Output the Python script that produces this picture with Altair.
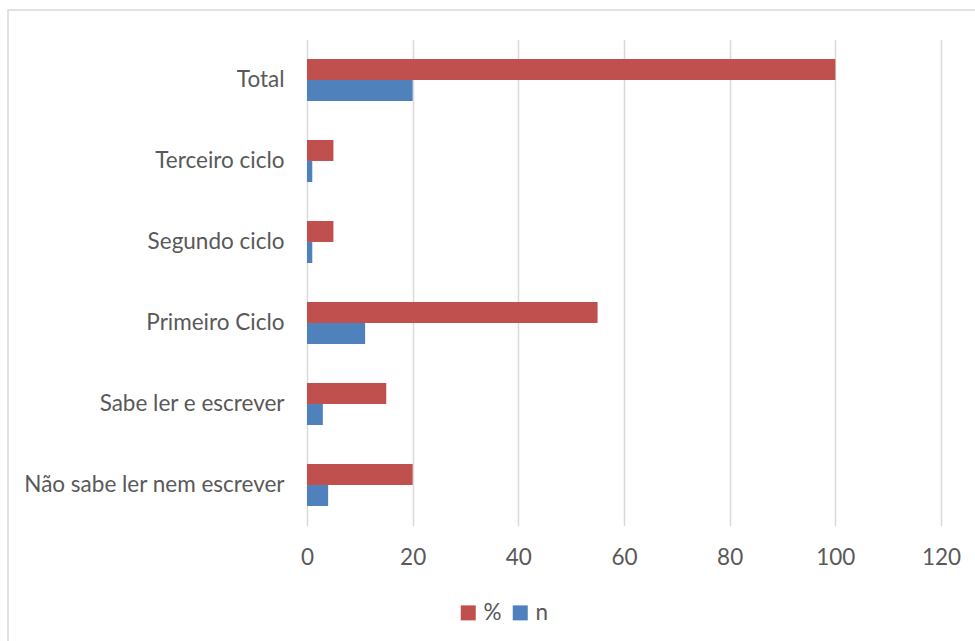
import altair as alt
import pandas as pd

# Education level categories, listed top to bottom
categories = [
    "Total",
    "Terceiro ciclo",
    "Segundo ciclo",
    "Primeiro Ciclo",
    "Sabe ler e escrever",
    "Não sabe ler nem escrever",
]
pct_values = [100, 5, 5, 55, 15, 20]
n_values = [20, 1, 1, 11, 3, 4]
series = ["%", "n"]
series_colors = ["#C0504D", "#4F81BD"]
x_ticks = [0, 20, 40, 60, 80, 100, 120]

rows = []
for cat, p, n in zip(categories, pct_values, n_values):
    rows.append({"categoria": cat, "serie": "%", "valor": p})
    rows.append({"categoria": cat, "serie": "n", "valor": n})
df = pd.DataFrame(rows)

FONT = "Lato"
TEXT = "#595959"
GRID = "#D9D9D9"
FS = 22.5

bars = alt.Chart(df).mark_bar(size=21).encode(
    x=alt.X(
        "valor:Q",
        scale=alt.Scale(domain=[0, 120], nice=False),
        axis=alt.Axis(
            values=x_ticks,
            title=None,
            grid=True,
            gridColor=GRID,
            gridWidth=1.5,
            domain=False,
            ticks=False,
            labelFlush=False,
            labelPadding=21,
            labelFontSize=FS,
            labelColor=TEXT,
            labelFont=FONT,
        ),
    ),
    y=alt.Y(
        "categoria:N",
        sort=categories,
        scale=alt.Scale(paddingInner=0.48, paddingOuter=0.24),
        axis=alt.Axis(
            title=None,
            domain=False,
            ticks=False,
            labelPadding=23,
            labelFontSize=FS,
            labelColor=TEXT,
            labelFont=FONT,
            labelLimit=400,
        ),
    ),
    yOffset=alt.YOffset("serie:N", sort=series),
    color=alt.Color(
        "serie:N",
        scale=alt.Scale(domain=series, range=series_colors),
        legend=alt.Legend(
            title=None,
            orient="none",
            direction="horizontal",
            legendX=150,
            legendY=562,
            symbolType="square",
            symbolSize=225,
            symbolStrokeWidth=0,
            labelFontSize=FS,
            labelColor=TEXT,
            labelFont=FONT,
            labelOffset=4,
            columnPadding=7,
        ),
    ),
)

# Light frame around the whole chart area
frame = alt.Chart(pd.DataFrame({"k": [0]})).mark_rect(
    fill=None, stroke=GRID, strokeWidth=1.5
).encode(
    x=alt.value(-299),
    x2=alt.value(700),
    y=alt.value(-29.5),
    y2=alt.value(620),
)

chart = (
    alt.layer(frame, bars)
    .properties(
        width=634,
        height=486,
        autosize=alt.AutoSizeParams(type="none"),
        padding={"left": 307, "top": 39.5, "right": 34, "bottom": 115.5},
        background="white",
    )
    .configure_view(stroke=None)
)

chart.save("out.html", embed_options={"renderer": "svg", "actions": False})
